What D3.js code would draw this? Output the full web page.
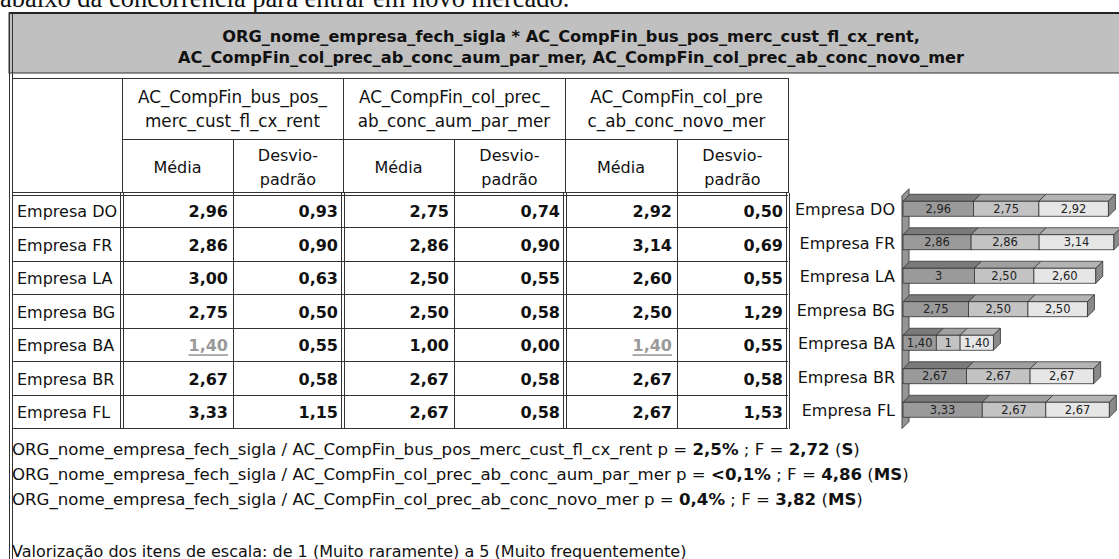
<!DOCTYPE html>
<html>
<head>
<meta charset="utf-8">
<script src="https://cdn.jsdelivr.net/npm/d3@7"></script>
<style>
  html, body { margin: 0; padding: 0; background: #fff; }
  svg { display: block; }
  text { font-family: "DejaVu Sans", Verdana, sans-serif; fill: #111; }
</style>
</head>
<body>
<svg id="chart" width="1119" height="559"></svg>
<script>
// ---- data -------------------------------------------------------------
const companies = ["Empresa DO", "Empresa FR", "Empresa LA", "Empresa BG", "Empresa BA", "Empresa BR", "Empresa FL"];
const variables = ["AC_CompFin_bus_pos_merc_cust_fl_cx_rent", "AC_CompFin_col_prec_ab_conc_aum_par_mer", "AC_CompFin_col_prec_ab_conc_novo_mer"];
const variableHeaderLines = [
  ["AC_CompFin_bus_pos_", "merc_cust_fl_cx_rent"],
  ["AC_CompFin_col_prec_", "ab_conc_aum_par_mer"],
  ["AC_CompFin_col_pre", "c_ab_conc_novo_mer"]
];
const meanBus  = [2.96, 2.86, 3.00, 2.75, 1.40, 2.67, 3.33];
const sdBus    = [0.93, 0.90, 0.63, 0.50, 0.55, 0.58, 1.15];
const meanAum  = [2.75, 2.86, 2.50, 2.50, 1.00, 2.67, 2.67];
const sdAum    = [0.74, 0.90, 0.55, 0.58, 0.00, 0.58, 0.58];
const meanNovo = [2.92, 3.14, 2.60, 2.50, 1.40, 2.67, 2.67];
const sdNovo   = [0.50, 0.69, 0.55, 1.29, 0.55, 0.58, 1.53];
// cells shown greyed and underlined: [variable index, company index]
const flaggedMeans = [[0, 4], [2, 4]];
// ANOVA summary per variable
const pValues = ["2,5%", "<0,1%", "0,4%"];
const fValues = ["2,72", "4,86", "3,82"];
const significance = ["S", "MS", "MS"];
const groupVar = "ORG_nome_empresa_fech_sigla";
const scaleNote = "Valorização dos itens de escala: de 1 (Muito raramente) a 5 (Muito frequentemente)";
const leadText = "abaixo da concorrência para entrar em novo mercado.";

const means = [meanBus, meanAum, meanNovo];
const sds = [sdBus, sdAum, sdNovo];

// ---- layout -----------------------------------------------------------
const svg = d3.select("#chart");
const fmt = v => v.toFixed(2).replace(".", ",");
const fmtBar = v => Number.isInteger(v) ? String(v) : fmt(v);
const lineCol = "#333";

// running text above the box
svg.append("text").attr("x", 0).attr("y", 7)
  .style("font-family", "'Liberation Serif', 'Times New Roman', serif")
  .style("font-size", "26.5px").text(leadText);

// grey title band
const boxLeft = 9;
svg.append("rect").attr("x", boxLeft).attr("y", 13).attr("width", 1200).attr("height", 60)
  .attr("fill", "#c0c0c0").attr("stroke", lineCol).attr("stroke-width", 1);
svg.append("line").attr("x1", boxLeft).attr("x2", 1119).attr("y1", 13).attr("y2", 13)
  .attr("stroke", "#222").attr("stroke-width", 2.2);
const titleLines = [
  `${groupVar} * ${variables[0]},`,
  `${variables[1]}, ${variables[2]}`
];
svg.selectAll("text.title").data(titleLines).join("text")
  .attr("class", "title")
  .attr("x", 571).attr("y", (d, i) => 36 + i * 21)
  .attr("text-anchor", "middle").attr("dominant-baseline", "central")
  .style("font-size", "16.2px").style("font-weight", "bold")
  .text(d => d);

// outer double border on the left
[boxLeft + 0.5, boxLeft + 3.5].forEach(x =>
  svg.append("line").attr("x1", x).attr("x2", x).attr("y1", 13).attr("y2", 559)
    .attr("stroke", lineCol).attr("stroke-width", 1));

// table geometry
const colEdges = [13, 122, 233, 343, 454, 565, 677, 788];
const head1Top = 78, head2Top = 139, bodyTop = 194;
const rowScale = d3.scaleBand().domain(companies).range([bodyTop, 428.5]).paddingInner(0).paddingOuter(0);
const bodyBottom = rowScale.range()[1];

const grid = svg.append("g").attr("stroke", lineCol).attr("stroke-width", 1).attr("shape-rendering", "crispEdges");
// horizontal rules
grid.append("line").attr("x1", 13).attr("x2", 788).attr("y1", head1Top).attr("y2", head1Top);
grid.append("line").attr("x1", colEdges[1]).attr("x2", 788).attr("y1", head2Top).attr("y2", head2Top);
[bodyTop - 1.5, bodyTop + 1.5].forEach(y =>
  grid.append("line").attr("x1", 13).attr("x2", 788).attr("y1", y).attr("y2", y));
companies.forEach(c => {
  const y = rowScale(c) + rowScale.bandwidth();
  grid.append("line").attr("x1", 13).attr("x2", 788).attr("y1", y).attr("y2", y);
});
// vertical rules in the header area
colEdges.slice(1).forEach((x, i) => {
  const top = (i % 2 === 1) ? head2Top : head1Top; // inner Média|Desvio split starts at second header row
  grid.append("line").attr("x1", x).attr("x2", x).attr("y1", top).attr("y2", bodyTop - 1.5);
});
// vertical rules in the body: double between groups, single inside groups
colEdges.slice(1).forEach((x, i) => {
  const dbl = (i % 2 === 0);
  const xs = dbl ? [x - 1.5, x + 1.5] : [x];
  xs.forEach(xx => grid.append("line").attr("x1", xx).attr("x2", xx)
    .attr("y1", bodyTop - 1.5).attr("y2", bodyBottom));
});

// header text
const groupCenters = [0, 1, 2].map(g => (colEdges[1 + 2 * g] + colEdges[3 + 2 * g]) / 2);
variableHeaderLines.forEach((lines, g) => {
  lines.forEach((t, k) => svg.append("text")
    .attr("x", groupCenters[g]).attr("y", 97 + k * 24)
    .attr("text-anchor", "middle").attr("dominant-baseline", "central")
    .style("font-size", "16.8px").text(t));
  const cM = (colEdges[1 + 2 * g] + colEdges[2 + 2 * g]) / 2;
  const cS = (colEdges[2 + 2 * g] + colEdges[3 + 2 * g]) / 2;
  svg.append("text").attr("x", cM).attr("y", 167)
    .attr("text-anchor", "middle").attr("dominant-baseline", "central")
    .style("font-size", "16px").text("Média");
  ["Desvio-", "padrão"].forEach((t, k) => svg.append("text")
    .attr("x", cS).attr("y", 155 + k * 24)
    .attr("text-anchor", "middle").attr("dominant-baseline", "central")
    .style("font-size", "16px").text(t));
});

// body cells
companies.forEach((c, r) => {
  const yc = rowScale(c) + rowScale.bandwidth() / 2 + 1;
  svg.append("text").attr("x", 17).attr("y", yc).attr("dominant-baseline", "central")
    .style("font-size", "16px").text(c);
  [0, 1, 2].forEach(g => {
    const flagged = flaggedMeans.some(([fg, fr]) => fg === g && fr === r);
    const mx = colEdges[2 + 2 * g] - 5;
    const m = svg.append("text").attr("x", mx).attr("y", yc)
      .attr("text-anchor", "end").attr("dominant-baseline", "central")
      .style("font-size", "16px").style("font-weight", "bold")
      .text(fmt(means[g][r]));
    if (flagged) {
      m.style("fill", "#9a9a9a").style("text-decoration", "underline");
    }
    svg.append("text").attr("x", colEdges[3 + 2 * g] - 5).attr("y", yc)
      .attr("text-anchor", "end").attr("dominant-baseline", "central")
      .style("font-size", "16px").style("font-weight", "bold")
      .text(fmt(sds[g][r]));
  });
});

// ---- stacked 3D bars --------------------------------------------------
const x = d3.scaleLinear().domain([0, 9]).range([903, 903 + 9 * 23.8]);
const depth = 7, barH = 15;
const frontFill = ["#9a9a9a", "#c3c3c3", "#e6e6e6"];
const topFill = ["#7a7a7a", "#a0a0a0", "#b4b4b4"];
const sideFill = "#8a8a8a";
const barCenter = c => rowScale(c) + rowScale.bandwidth() / 2 - 2;

// back wall of the category axis
const wallTop = barCenter(companies[0]) - 20, wallBottom = bodyBottom;
svg.append("polygon")
  .attr("points", [[x(0) - 1, wallBottom], [x(0) - 1, wallTop + depth], [x(0) - 1 + depth, wallTop], [x(0) - 1 + depth, wallBottom - depth]].join(" "))
  .attr("fill", "#959595").attr("stroke", "#444").attr("stroke-width", 1);

const stack = d3.stack().keys([0, 1, 2]).value((d, k) => d.values[k]);
const stackData = companies.map((c, i) => ({ company: c, values: [meanBus[i], meanAum[i], meanNovo[i]] }));
const series = stack(stackData);

const barsG = svg.append("g");
companies.forEach((c, i) => {
  const y0 = barCenter(c) - barH / 2;
  series.forEach((s, k) => {
    const [a, b] = s[i];
    // top face
    barsG.append("polygon")
      .attr("points", [[x(a), y0], [x(a) + depth, y0 - depth], [x(b) + depth, y0 - depth], [x(b), y0]].join(" "))
      .attr("fill", topFill[k]).attr("stroke", "#333").attr("stroke-width", 0.8);
    // front face
    barsG.append("rect").attr("x", x(a)).attr("y", y0).attr("width", x(b) - x(a)).attr("height", barH)
      .attr("fill", frontFill[k]).attr("stroke", "#333").attr("stroke-width", 0.8);
    barsG.append("text").attr("x", (x(a) + x(b)) / 2).attr("y", y0 + barH / 2)
      .attr("text-anchor", "middle").attr("dominant-baseline", "central")
      .style("font-size", "11.5px").style("fill", "#222").text(fmtBar(stackData[i].values[k]));
  });
  const end = series[2][i][1];
  barsG.append("polygon")
    .attr("points", [[x(end), y0], [x(end) + depth, y0 - depth], [x(end) + depth, y0 - depth + barH], [x(end), y0 + barH]].join(" "))
    .attr("fill", sideFill).attr("stroke", "#333").attr("stroke-width", 0.8);
  svg.append("text").attr("x", 895).attr("y", barCenter(c) + 1)
    .attr("text-anchor", "end").attr("dominant-baseline", "central")
    .style("font-size", "16px").text(c);
});

// ---- test notes ---------------------------------------------------------
variables.forEach((v, i) => {
  const t = svg.append("text").attr("x", 12).attr("y", 449 + i * 25)
    .attr("dominant-baseline", "central").style("font-size", "16.6px");
  t.append("tspan").text(`${groupVar} / ${v} p = `);
  t.append("tspan").style("font-weight", "bold").text(pValues[i]);
  t.append("tspan").text(" ; F = ");
  t.append("tspan").style("font-weight", "bold").text(fValues[i]);
  t.append("tspan").text(" (");
  t.append("tspan").style("font-weight", "bold").text(significance[i]);
  t.append("tspan").text(")");
});
svg.append("text").attr("x", 12).attr("y", 551).attr("dominant-baseline", "central")
  .style("font-size", "16px").text(scaleNote);
</script>
</body>
</html>
